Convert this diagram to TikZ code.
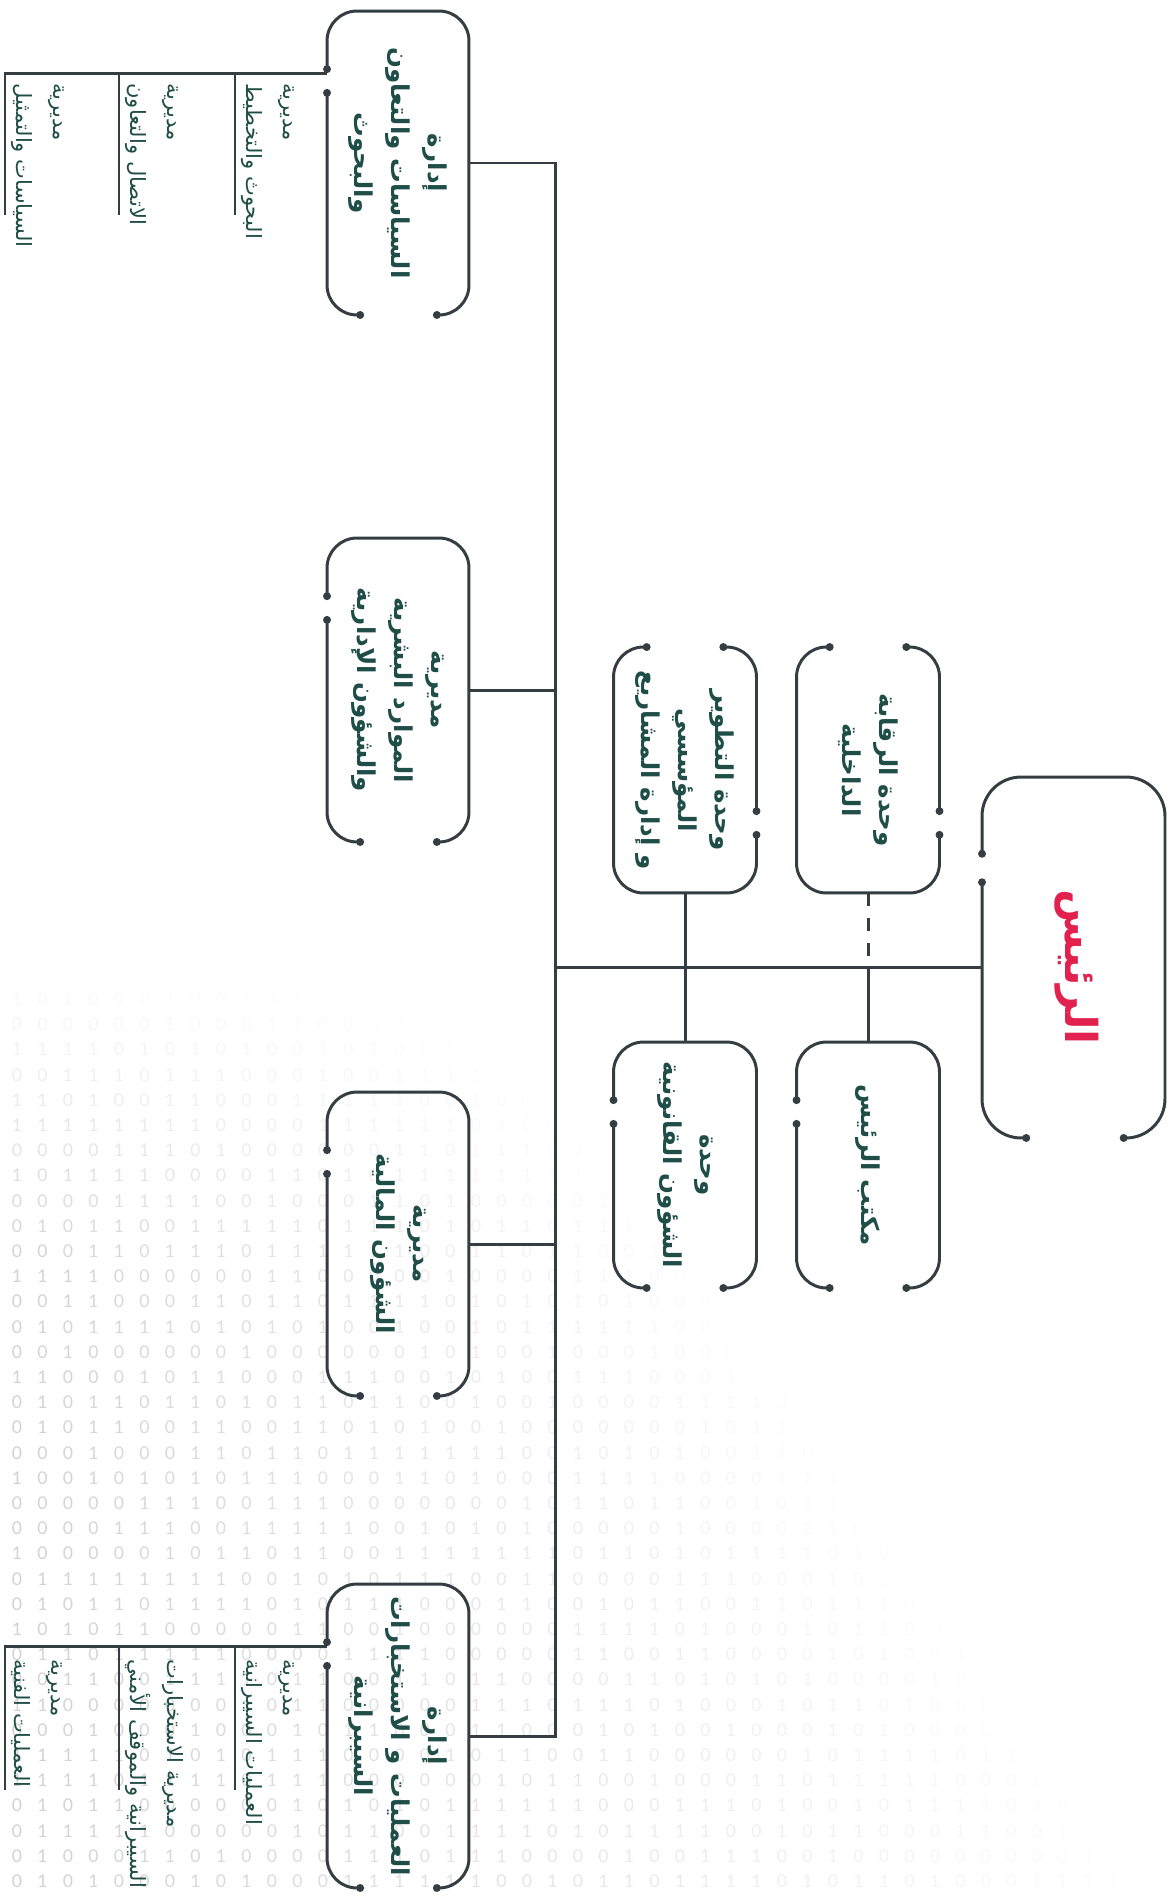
\documentclass[tikz,border=0pt]{standalone}
\usepackage{fontspec}
\usetikzlibrary{arrows.meta}
\TeXXeTstate=1
\newfontfamily\arabicfont[Script=Arabic]{DejaVu Sans}
\newfontfamily\digitfont{Lato}
\newcommand{\artext}[1]{\beginR #1\endR}
\definecolor{linecol}{HTML}{333D42}
\definecolor{textgreen}{HTML}{1F4D47}
\definecolor{presred}{HTML}{E2214F}
\definecolor{digitgray}{HTML}{BDBDBD}
\tikzset{
  link/.style={draw=linecol, line width=1.7pt},
  frame/.style={link, rounded corners=#1, {Circle[length=4.4pt]}-{Circle[length=4.4pt]}},
  frame/.default=0.6cm,
  orgbox/.style={rectangle, inner sep=0pt, outer sep=0pt},
  boxtext/.style={rotate=-90, align=center, inner sep=0pt, text=textgreen,
    font=\arabicfont\bfseries\fontsize{14}{21}\selectfont},
  prestext/.style={rotate=-90, inner sep=0pt, text=presred,
    font=\arabicfont\bfseries\fontsize{25}{25}\selectfont},
  subtext/.style={rotate=-90, anchor=south west, align=left, inner sep=0pt, text=textgreen,
    font=\arabicfont\fontsize{12}{21}\selectfont},
  digit/.style={inner sep=0pt, text=digitgray, font=\digitfont\fontsize{10}{10}\selectfont}
}
% box outline, open on the left side and at the bottom
\newcommand{\openframe}[2][1]{%
  \draw[frame={#1*0.6cm}] ([yshift={-#1*1.24cm}]#2.north west) -- (#2.north west) -- (#2.north east)
    -- (#2.south east) -- ([xshift={#1*2.12cm}]#2.south west);
  \draw[frame={#1*0.6cm}] ([xshift={#1*0.74cm}]#2.south west) -- (#2.south west)
    -- ([yshift={-#1*1.56cm}]#2.north west);}
% same outline turned half round
\newcommand{\openframeflip}[1]{%
  \draw[frame] ([yshift=1.24cm]#1.south east) -- (#1.south east) -- (#1.south west)
    -- (#1.north west) -- ([xshift=-2.12cm]#1.north east);
  \draw[frame] ([xshift=-0.74cm]#1.north east) -- (#1.north east) -- ([yshift=1.56cm]#1.south east);}
\begin{document}
\begin{tikzpicture}[x=0.02cm, y=-0.02cm]
\useasboundingbox (0,0) rectangle (1170,1903);
%
% background digits
\pgfmathsetseed{4242}
\foreach \i in {0,...,45} {
  \foreach \j in {-12,...,31} {
    \pgfmathsetmacro\px{17+25.5*\i}
    \pgfmathsetmacro\py{1100+25.2*\j}
    \pgfmathsetmacro\fy{max(0,min(1,(\py-960)/300))}
    \pgfmathsetmacro\fx{max(0,1-\px/(500+0.75*(\py-960)))}
    \pgfmathsetmacro\op{0.7*\fy*\fx}
    \pgfmathrandominteger\bit{0}{1}
    \ifdim\op pt>0.04pt
      \node[digit, opacity=\op] at (\px,\py) {\bit};
    \fi
  }
}
%
% president
\node[orgbox, minimum width=3.66cm, minimum height=7.22cm] (pres) at (1073.5,957.5) {};
\node[prestext] (pres-t) at (1077,967) {\artext{الرئيس}};
\openframe[1.3]{pres}
%
% units
\node[orgbox, minimum width=2.86cm, minimum height=4.92cm] (u1) at (868,770) {};
\node[boxtext] at (u1) {\artext{وحدة الرقابة}\\\artext{الداخلية}};
\openframeflip{u1}
\node[orgbox, minimum width=2.86cm, minimum height=4.92cm] (u2) at (685,770) {};
\node[boxtext] at (u2) {\artext{وحدة التطوير}\\\artext{المؤسسي}\\\artext{و إدارة المشاريع}};
\openframeflip{u2}
\node[orgbox, minimum width=2.86cm, minimum height=4.92cm] (u3) at (685,1165) {};
\node[boxtext] at (u3) {\artext{وحدة}\\\artext{الشؤون القانونية}};
\openframe{u3}
\node[orgbox, minimum width=2.86cm, minimum height=4.92cm] (u4) at (868,1165) {};
\node[boxtext] at (u4) {\artext{مكتب الرئيس}};
\openframe{u4}
%
% departments
\node[orgbox, minimum width=2.84cm, minimum height=6.08cm] (d1) at (398,163) {};
\node[boxtext] at (d1) {\artext{إدارة}\\\artext{السياسات والتعاون}\\\artext{والبحوث}};
\openframe{d1}
\node[orgbox, minimum width=2.84cm, minimum height=6.08cm] (d2) at (398,690) {};
\node[boxtext] at (d2) {\artext{مديرية}\\\artext{الموارد البشرية}\\\artext{والشؤون الإدارية}};
\openframe{d2}
\node[orgbox, minimum width=2.84cm, minimum height=6.08cm] (d3) at (398,1244) {};
\node[boxtext] at (d3) {\artext{مديرية}\\\artext{الشؤون المالية}};
\openframe{d3}
\node[orgbox, minimum width=2.84cm, minimum height=6.08cm] (d4) at (398,1736) {};
\node[boxtext] at (d4) {\artext{إدارة}\\\artext{العمليات و الاستخبارات}\\\artext{السيبرانية}};
\openframe{d4}
%
% connectors
\coordinate (hub) at (555,967);
\draw[link] (d1.east) -- (d1.east -| hub) -- (d4.east -| hub) -- (d4.east);
\draw[link] (d2.east) -- (d2.east -| hub);
\draw[link] (d3.east) -- (d3.east -| hub);
\draw[link] (hub) -- (hub -| pres.west);
\draw[link] (u2.south) -- (u3.north);
\draw[link, dash pattern=on 0.26cm off 0.24cm] (u1.south) -- (u1.south |- hub);
\draw[link] (u1.south |- hub) -- (u4.north);
%
% directorates under d1
\coordinate (bus1) at ([yshift=-1.24cm]d1.north west);
\draw[link] (bus1) -| (5,215);
\draw[link] (119,73) -- (119,215);
\draw[link] (235,73) -- (235,215);
\node[subtext] (s11) at (241,83) {\artext{مديرية}\\\artext{البحوث والتخطيط}};
\node[subtext] (s12) at (125,83) {\artext{مديرية}\\\artext{الاتصال والتعاون}};
\node[subtext] (s13) at (11,83) {\artext{مديرية}\\\artext{السياسات والتمثيل}};
%
% directorates under d4
\coordinate (bus4) at ([yshift=-1.24cm]d4.north west);
\draw[link] (bus4) -| (5,1790);
\draw[link] (119,1646) -- (119,1790);
\draw[link] (235,1646) -- (235,1790);
\node[subtext] (s41) at (241,1659) {\artext{مديرية}\\\artext{العمليات السيبرانية}};
\node[subtext] (s42) at (125,1659) {\artext{مديرية الاستخبارات}\\\artext{السيبرانية والموقف الأمني}};
\node[subtext] (s43) at (11,1659) {\artext{مديرية}\\\artext{العمليات الفنية}};
\end{tikzpicture}
\end{document}
